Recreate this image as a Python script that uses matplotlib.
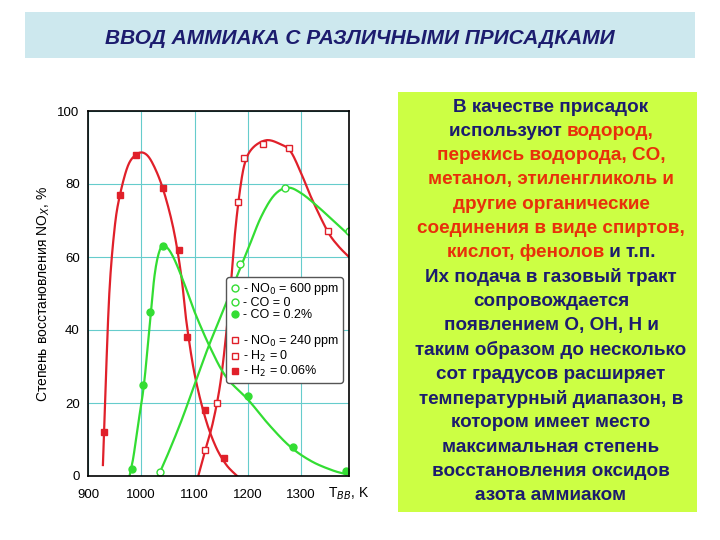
import matplotlib
matplotlib.use("Agg")
import matplotlib.pyplot as plt
import numpy as np
from matplotlib.patches import Rectangle
from matplotlib.lines import Line2D

plt.rcParams["font.family"] = ["Liberation Sans", "DejaVu Sans"]

# --- data ---
# red, H2 = 0.06 % (filled squares)
h2_on_x = [930, 960, 990, 1040, 1070, 1085, 1120, 1155]
h2_on_y = [12, 77, 88, 79, 62, 38, 18, 5]
h2_on_cx = [928, 932, 940, 950, 960, 975, 990, 1005, 1020, 1040, 1060, 1075, 1085, 1100, 1120, 1140, 1160, 1180]
h2_on_cy = [3, 20, 50, 68, 77, 85, 88, 88.5, 86, 79, 68, 55, 42, 28, 16, 8, 3, 0]
# red, H2 = 0 (open squares)
h2_off_x = [1120, 1143, 1182, 1193, 1228, 1278, 1350]
h2_off_y = [7, 20, 75, 87, 91, 90, 67]
h2_off_cx = [1107, 1120, 1135, 1150, 1165, 1175, 1185, 1195, 1210, 1235, 1260, 1280, 1300, 1320, 1350, 1370, 1390]
h2_off_cy = [0, 7, 15, 27, 47, 65, 78, 86, 90, 92, 91, 89, 83, 76, 67, 63, 60]
# green, CO = 0.2 % (filled circles)
co_on_x = [982, 1003, 1017, 1040, 1200, 1285, 1385]
co_on_y = [2, 25, 45, 63, 22, 8, 1.5]
co_on_cx = [978, 985, 995, 1005, 1015, 1025, 1035, 1045, 1060, 1080, 1100, 1130, 1160, 1200, 1240, 1280, 1320, 1360, 1385]
co_on_cy = [0, 5, 15, 25, 40, 55, 62, 63, 60, 53, 45, 35, 27, 21, 14, 8, 4, 1.5, 0.5]
# green, CO = 0 (open circles)
co_off_x = [1035, 1185, 1270, 1390]
co_off_y = [1, 58, 79, 67]
co_off_cx = [1032, 1050, 1075, 1100, 1125, 1150, 1175, 1200, 1225, 1250, 1275, 1300, 1330, 1360, 1390]
co_off_cy = [0, 6, 15, 25, 35, 44, 53, 62, 71, 77, 79, 77.5, 74, 70, 66]

title = "ВВОД АММИАКА С РАЗЛИЧНЫМИ ПРИСАДКАМИ"
NAVY = "#1c1c6e"
RED = "#e8300a"
text_lines = [
    [("В качестве присадок", NAVY)],
    [("используют ", NAVY), ("водород,", RED)],
    [("перекись водорода, CO,", RED)],
    [("метанол, этиленгликоль и", RED)],
    [("другие органические", RED)],
    [("соединения в виде спиртов,", RED)],
    [("кислот, фенолов", RED), (" и т.п.", NAVY)],
    [("Их подача в газовый тракт", NAVY)],
    [("сопровождается", NAVY)],
    [("появлением O, OH, H и", NAVY)],
    [("таким образом до несколько", NAVY)],
    [("сот градусов расширяет", NAVY)],
    [("температурный диапазон, в", NAVY)],
    [("котором имеет место", NAVY)],
    [("максимальная степень", NAVY)],
    [("восстановления оксидов", NAVY)],
    [("азота аммиаком", NAVY)],
]


def smooth(xs, ys, n=12):
    """Catmull-Rom pass through the read points, so the curve looks drawn."""
    p = np.column_stack([xs, ys]).astype(float)
    p = np.vstack([p[0], p, p[-1]])
    out = []
    t = np.linspace(0, 1, n, endpoint=False)[:, None]
    for i in range(1, len(p) - 2):
        p0, p1, p2, p3 = p[i - 1], p[i], p[i + 1], p[i + 2]
        out.append(0.5 * (2 * p1 + (-p0 + p2) * t + (2 * p0 - 5 * p1 + 4 * p2 - p3) * t ** 2
                          + (-p0 + 3 * p1 - 3 * p2 + p3) * t ** 3))
    out.append(p[-2][None, :])
    out = np.vstack(out)
    return out[:, 0], out[:, 1]


W, H = 720, 540
fig = plt.figure(figsize=(7.2, 5.4), dpi=100)

# title bar
fig.patches.append(Rectangle((25 / W, 1 - 58 / H), 670 / W, 46 / H, transform=fig.transFigure,
                             facecolor="#cde8ee", edgecolor="none"))
fig.text(360 / W, 1 - 38 / H, title, ha="center", va="center", fontsize=15,
         fontweight="bold", style="italic", color=NAVY)

# chart
ax = fig.add_axes([88 / W, 1 - 476 / H, 261 / W, 365 / H])
red, green = "#e0202a", "#33dd33"
for cx, cy, c in [(h2_on_cx, h2_on_cy, red), (h2_off_cx, h2_off_cy, red),
                  (co_on_cx, co_on_cy, green), (co_off_cx, co_off_cy, green)]:
    sx, sy = smooth(cx, cy)
    ax.plot(sx, sy, color=c, lw=1.6)
ax.plot(h2_on_x, h2_on_y, "s", color=red, ms=4.5, ls="none")
ax.plot(h2_off_x, h2_off_y, "s", mfc="white", mec=red, ms=4.5, ls="none")
ax.plot(co_on_x, co_on_y, "o", color=green, ms=5, ls="none")
ax.plot(co_off_x, co_off_y, "o", mfc="white", mec=green, ms=5, ls="none")
ax.set_xlim(900, 1390)
ax.set_ylim(0, 100)
ax.set_xticks([900, 1000, 1100, 1200, 1300])
ax.set_yticks([0, 20, 40, 60, 80, 100])
ax.grid(color="#66cccc", lw=0.8)
ax.set_axisbelow(True)
ax.tick_params(length=0, labelsize=9.5)
ax.tick_params(axis="x", pad=9)
ax.tick_params(axis="y", pad=6)
for s in ax.spines.values():
    s.set_linewidth(1.2)
ax.set_ylabel("Степень восстановления NO$_X$, %", fontsize=10)
ax.text(1.0, -0.05, "T$_{ВВ}$, K", transform=ax.transAxes, fontsize=10, va="center", ha="center")

h = [Line2D([], [], marker="o", mfc="white", mec=green, color=green, ls="none", ms=5),
     Line2D([], [], marker="o", mfc="white", mec=green, ls="none", ms=5),
     Line2D([], [], marker="o", color=green, ls="none", ms=5),
     Line2D([], [], ls="none"),
     Line2D([], [], marker="s", mfc="white", mec=red, ls="none", ms=4.5),
     Line2D([], [], marker="s", mfc="white", mec=red, ls="none", ms=4.5),
     Line2D([], [], marker="s", color=red, ls="none", ms=4.5)]
lab = ["- NO$_0$ = 600 ppm", "- CO = 0", "- CO = 0.2%", "", "- NO$_0$ = 240 ppm", "- H$_2$ = 0", "- H$_2$ = 0.06%"]
ax.legend(h, lab, loc="center right", bbox_to_anchor=(1.0, 0.4), fontsize=9,
          handlelength=0.8, handletextpad=0.2, borderpad=0.3, labelspacing=0.0,
          framealpha=1, edgecolor="#555555")

# text box
fig.patches.append(Rectangle((398 / W, 1 - 512 / H), 299 / W, 420 / H, transform=fig.transFigure,
                             facecolor="#ccff44", edgecolor="none"))
renderer = fig.canvas.get_renderer()
y0, dy = 1 - 107 / H, 24.3 / H
for i, parts in enumerate(text_lines):
    y = y0 - i * dy
    arts = []
    for txt, c in parts:
        arts.append(fig.text(0, y, txt, ha="left", va="center", fontsize=13.6,
                             fontweight="bold", color=c))
    widths = [a.get_window_extent(renderer).width / W for a in arts]
    x = 551 / W - sum(widths) / 2
    for a, w in zip(arts, widths):
        a.set_x(x)
        x += w

fig.savefig("out.png", dpi=100)
